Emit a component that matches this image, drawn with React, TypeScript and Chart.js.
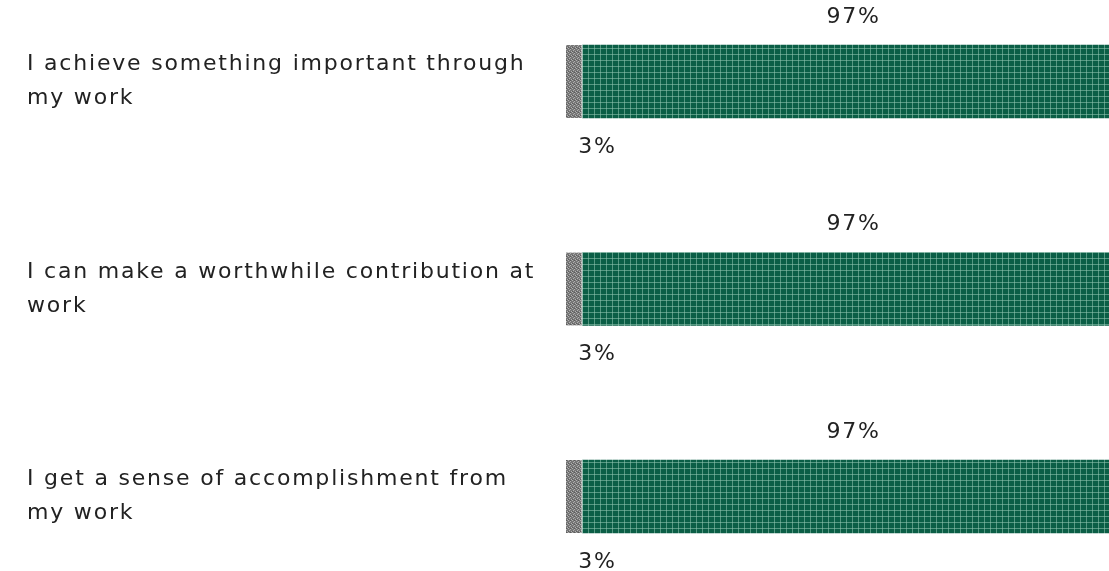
import React, { useEffect, useRef } from "react";
import { Chart, registerables } from "chart.js";

Chart.register(...registerables);

const categories: string[][] = [
  ["I achieve something important through", "my work"],
  ["I can make a worthwhile contribution at", "work"],
  ["I get a sense of accomplishment from", "my work"],
];
const disagreeValues = [3, 3, 3];
const agreeValues = [97, 97, 97];
const FONT = "'DejaVu Sans'";
const SPACING = "1.8px";

function makeGreenPattern(): CanvasPattern | string {
  const c = document.createElement("canvas");
  c.width = 6;
  c.height = 6;
  const g = c.getContext("2d");
  if (!g) return "#0d5f48";
  g.fillStyle = "#0b5e46";
  g.fillRect(0, 0, 6, 6);
  g.fillStyle = "rgba(150, 200, 180, 0.55)";
  g.fillRect(0, 0, 1, 6);
  g.fillRect(0, 0, 6, 1);
  const p = g.createPattern(c, "repeat");
  return p || "#0d5f48";
}

function makeGreyPattern(): CanvasPattern | string {
  const c = document.createElement("canvas");
  c.width = 4;
  c.height = 4;
  const g = c.getContext("2d");
  if (!g) return "#777";
  g.fillStyle = "#777777";
  g.fillRect(0, 0, 4, 4);
  g.fillStyle = "#b0b0b0";
  g.fillRect(0, 0, 1, 1);
  g.fillRect(2, 1, 1, 1);
  g.fillRect(1, 2, 1, 1);
  g.fillRect(3, 3, 1, 1);
  g.fillStyle = "#5c5c5c";
  g.fillRect(2, 0, 1, 1);
  g.fillRect(0, 3, 1, 1);
  const p = g.createPattern(c, "repeat");
  return p || "#777";
}

const spacingPlugin = {
  id: "letterSpacing",
  beforeDraw(chart: any) {
    chart.ctx.letterSpacing = SPACING;
  },
  afterDraw(chart: any) {
    chart.ctx.letterSpacing = "0px";
  },
};

const labelPlugin = {
  id: "valueLabels",
  afterDatasetsDraw(chart: any) {
    const ctx = chart.ctx;
    ctx.save();
    ctx.letterSpacing = SPACING;
    ctx.font = `22px ${FONT}`;
    ctx.fillStyle = "#222";
    ctx.textBaseline = "middle";
    chart.data.datasets.forEach((ds: any, di: number) => {
      const meta = chart.getDatasetMeta(di);
      meta.data.forEach((el: any, i: number) => {
        const v = ds.data[i];
        const props = el.getProps(["x", "y", "base", "height"], true);
        const half = props.height / 2;
        if (di === 1) {
          ctx.textAlign = "center";
          ctx.fillText(`${v}%`, (props.x + props.base) / 2 + 8, props.y - half - 28);
        } else {
          ctx.textAlign = "left";
          ctx.fillText(`${v}%`, props.x - 4, props.y + half + 29);
        }
      });
    });
    ctx.restore();
  },
};

export default function App() {
  const ref = useRef<HTMLCanvasElement | null>(null);
  useEffect(() => {
    if (!ref.current) return;
    const chart = new Chart(ref.current, {
      type: "bar",
      data: {
        labels: categories,
        datasets: [
          {
            label: "Disagree",
            data: disagreeValues,
            backgroundColor: makeGreyPattern() as any,
            borderColor: "#ffffff",
            borderWidth: { right: 1 } as any,
            borderSkipped: false,
            barThickness: 73,
            clip: false as any,
          },
          {
            label: "Agree",
            data: agreeValues,
            backgroundColor: makeGreenPattern() as any,
            borderWidth: 0,
            barThickness: 73,
            clip: false as any,
          },
        ],
      },
      options: {
        indexAxis: "y",
        responsive: false,
        animation: false,
        layout: { padding: { top: 81.5, bottom: 74.5, left: 27, right: 0 } },
        plugins: { legend: { display: false }, tooltip: { enabled: false } },
        scales: {
          x: { stacked: true, min: 0, max: 100, display: false },
          y: {
            stacked: true,
            offset: false,
            grid: { display: false },
            border: { display: false },
            ticks: {
              crossAlign: "far",
              padding: 0,
              color: "#222",
              font: { family: FONT, size: 22, lineHeight: 1.55 },
            },
            afterFit: (scale: any) => {
              scale.width = 539;
            },
          },
        },
      },
      plugins: [spacingPlugin, labelPlugin],
    });
    return () => chart.destroy();
  }, []);
  return (
    <div style={{ position: "fixed", left: 0, top: 0, width: 1109, height: 571, background: "#fff" }}>
      <canvas ref={ref} width={1109} height={571} style={{ width: 1109, height: 571, display: "block" }} />
    </div>
  );
}
